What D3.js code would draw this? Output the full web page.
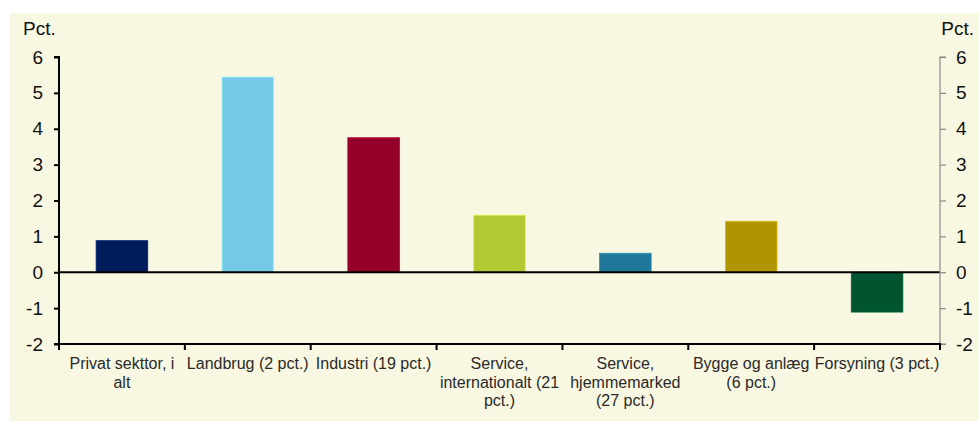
<!DOCTYPE html>
<html>
<head>
<meta charset="utf-8">
<script src="https://cdn.jsdelivr.net/npm/d3@7"></script>
<style>
  body { margin: 0; background: #ffffff; }
  svg { display: block; font-family: Arial, "Liberation Sans", sans-serif; }
</style>
</head>
<body>
<svg class="chart"></svg>
<script>
// data
const categories = [
  "Privat sekttor, i|alt",
  "Landbrug (2 pct.)",
  "Industri (19 pct.)",
  "Service,|internationalt (21|pct.)",
  "Service,|hjemmemarked|(27 pct.)",
  "Bygge og anlæg|(6 pct.)",
  "Forsyning (3 pct.)"
];
const values = [0.88, 5.44, 3.75, 1.59, 0.53, 1.42, -1.11];
const barColors = ["#001c5b", "#76c9e6", "#95002b", "#b2c934", "#1f7799", "#b09500", "#005430"];
const yTicks = [-2, -1, 0, 1, 2, 3, 4, 5, 6];
const unitLabel = "Pct.";

const W = 979, H = 421;
const plot = {left: 59, right: 940, top: 57, bottom: 344};
const FONT = "Arial, 'Liberation Sans', sans-serif";

const svg = d3.select("svg.chart")
  .attr("width", W)
  .attr("height", H);

// beige panel
svg.append("rect")
  .attr("x", 10).attr("y", 13)
  .attr("width", W - 10).attr("height", H - 13)
  .attr("fill", "#f8f7e1");

const x = d3.scaleBand()
  .domain(categories)
  .range([plot.left, plot.right])
  .paddingInner(0)
  .paddingOuter(0);

const y = d3.scaleLinear()
  .domain([-2, 6])
  .range([plot.bottom, plot.top]);

const barW = x.bandwidth() * 0.41;

// bars
svg.append("g").selectAll("rect")
  .data(values)
  .join("rect")
    .attr("x", (d, i) => x(categories[i]) + (x.bandwidth() - barW) / 2)
    .attr("y", d => y(Math.max(0, d)))
    .attr("width", barW)
    .attr("height", d => Math.abs(y(d) - y(0)))
    .attr("fill", (d, i) => barColors[i])
    .attr("stroke", (d, i) => d3.color(barColors[i]).brighter(0.6))
    .attr("stroke-width", 0.8);

// zero line
svg.append("line")
  .attr("x1", plot.left).attr("x2", plot.right)
  .attr("y1", y(0)).attr("y2", y(0))
  .attr("stroke", "#000").attr("stroke-width", 2);

const fmt = d => String(d);

// left axis
const leftAxis = svg.append("g")
  .attr("transform", `translate(${plot.left},0)`)
  .call(d3.axisLeft(y).tickValues(yTicks).tickSize(5).tickPadding(11).tickFormat(fmt));
leftAxis.select(".domain").attr("stroke", "#000").attr("stroke-width", 2).attr("d", `M-5,${y(6)}H0V${y(-2)}H-5`);
leftAxis.selectAll(".tick line").attr("stroke", "#000").attr("stroke-width", 2);
leftAxis.selectAll(".tick text")
  .style("font-size", "19px").style("font-family", FONT).attr("fill", "#111");

// right axis
const rightAxis = svg.append("g")
  .attr("transform", `translate(${plot.right},0)`)
  .call(d3.axisRight(y).tickValues(yTicks).tickSize(6).tickPadding(10).tickFormat(fmt));
rightAxis.select(".domain").attr("stroke", "#8a8a8a").attr("stroke-width", 1.2).attr("d", `M6,${y(6)}H0V${y(-2)}H6`);
rightAxis.selectAll(".tick line").attr("stroke", "#8a8a8a").attr("stroke-width", 1.2);
rightAxis.selectAll(".tick text")
  .style("font-size", "19px").style("font-family", FONT).attr("fill", "#111");

// bottom axis with ticks at category boundaries
const bottom = svg.append("g");
bottom.append("line")
  .attr("x1", plot.left).attr("x2", plot.right + 1)
  .attr("y1", plot.bottom).attr("y2", plot.bottom)
  .attr("stroke", "#000").attr("stroke-width", 2);
const bounds = categories.map(c => x(c)).concat([x.range()[1]]);
bottom.selectAll("line.bt")
  .data(bounds)
  .join("line")
    .attr("class", "bt")
    .attr("x1", d => d).attr("x2", d => d)
    .attr("y1", plot.bottom).attr("y2", plot.bottom + 6)
    .attr("stroke", "#000").attr("stroke-width", 2);

// category labels
const lab = bottom.selectAll("text.cat")
  .data(categories)
  .join("text")
    .attr("class", "cat")
    .attr("x", d => x(d) + x.bandwidth() / 2)
    .attr("y", 369)
    .attr("text-anchor", "middle")
    .style("font-size", "16px")
    .attr("fill", "#2a2a2a");
lab.each(function(d) {
  const t = d3.select(this);
  d.split("|").forEach((line, i) => {
    t.append("tspan")
      .attr("x", x(d) + x.bandwidth() / 2)
      .attr("dy", i === 0 ? 0 : 18.5)
      .text(line);
  });
});

// unit labels
svg.append("text")
  .attr("x", 23).attr("y", 35)
  .style("font-size", "19px").attr("fill", "#111")
  .text(unitLabel);
svg.append("text")
  .attr("x", 974).attr("y", 35)
  .attr("text-anchor", "end")
  .style("font-size", "19px").attr("fill", "#111")
  .text(unitLabel);
</script>
</body>
</html>
